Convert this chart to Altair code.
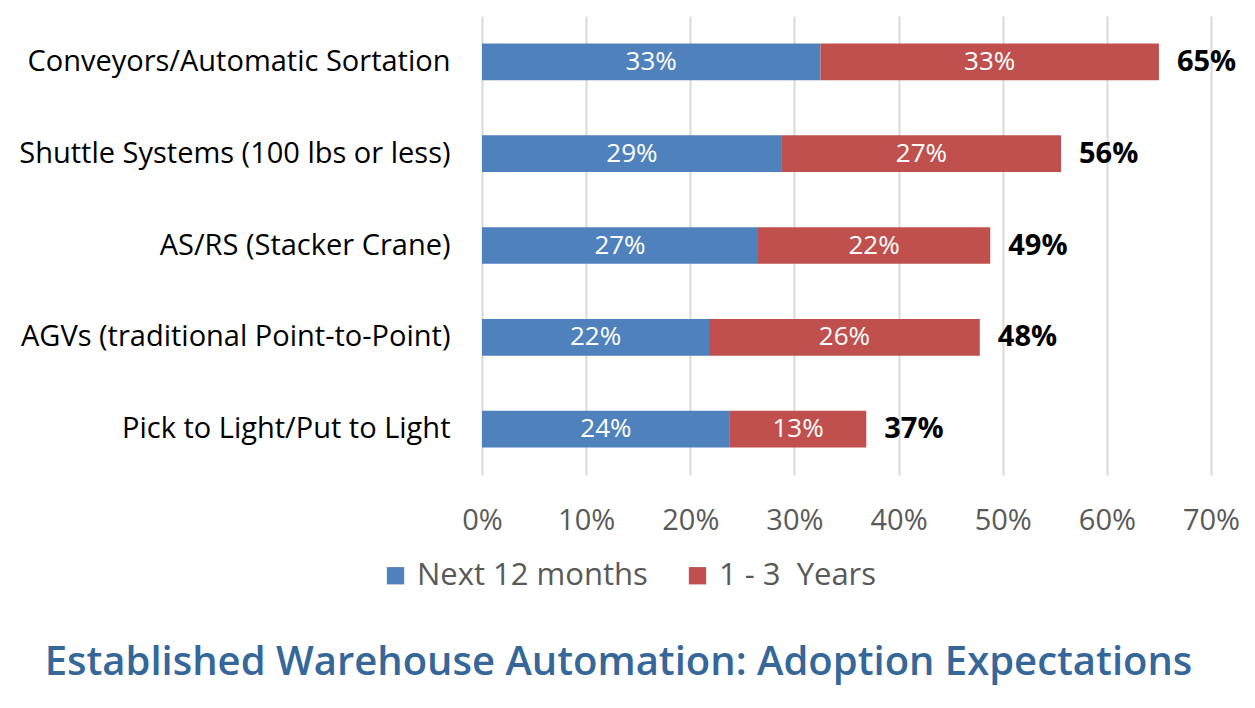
import altair as alt
import pandas as pd

categories = [
    "Conveyors/Automatic Sortation",
    "Shuttle Systems (100 lbs or less)",
    "AS/RS (Stacker Crane)",
    "AGVs (traditional Point-to-Point)",
    "Pick to Light/Put to Light",
]
next12 = [0.325, 0.288, 0.265, 0.218, 0.238]
years13 = [0.325, 0.268, 0.223, 0.260, 0.131]
next12_labels = ["33%", "29%", "27%", "22%", "24%"]
years13_labels = ["33%", "27%", "22%", "26%", "13%"]
total_labels = ["65%", "56%", "49%", "48%", "37%"]
series = ["Next 12 months", "1 - 3\u00a0 Years"]
colors = ["#4F81BD", "#C0504D"]

rows = []
for c, a, b, la, lb in zip(categories, next12, years13, next12_labels, years13_labels):
    rows.append({"cat": c, "series": series[0], "start": 0.0, "end": a, "mid": a / 2, "label": la})
    rows.append({"cat": c, "series": series[1], "start": a, "end": a + b, "mid": a + b / 2, "label": lb})
df = pd.DataFrame(rows)
tot = pd.DataFrame({"cat": categories,
                    "total": [a + b for a, b in zip(next12, years13)],
                    "label": total_labels})

FONT = "Open Sans"

y_enc = alt.Y("cat:N", sort=categories, title=None,
              scale=alt.Scale(paddingInner=0.6, paddingOuter=0.3),
              axis=alt.Axis(labelFont=FONT, labelFontSize=29, labelColor="#000000",
                            labelPadding=32, ticks=False, domain=False, labelLimit=600))

x_enc = alt.X("start:Q", title=None,
              scale=alt.Scale(domain=[0, 0.7], nice=False),
              axis=alt.Axis(format=".0%", values=[0, 0.1, 0.2, 0.3, 0.4, 0.5, 0.6, 0.7],
                            labelFont=FONT, labelFontSize=29, labelColor="#595959",
                            labelPadding=31, labelFlush=False, labelOverlap=False,
                            ticks=False, domain=False,
                            grid=True, gridColor="#D9D9D9", gridWidth=2))

bars = alt.Chart(df).mark_bar(stroke=None).encode(
    y=y_enc,
    x=x_enc,
    x2="end:Q",
    color=alt.Color("series:N", scale=alt.Scale(domain=series, range=colors),
                    legend=alt.Legend(title=None, orient="none", legendX=-102, legendY=544,
                                      direction="horizontal", symbolType="square",
                                      symbolSize=300, symbolStrokeWidth=0,
                                      labelFont=FONT, labelFontSize=31, labelColor="#595959",
                                      labelOffset=6, columnPadding=34, labelLimit=500)),
)

inner = alt.Chart(df).mark_text(font=FONT, fontSize=26, color="white").encode(
    y=alt.Y("cat:N", sort=categories),
    x=alt.X("mid:Q"),
    text="label:N",
)

totals = alt.Chart(tot).mark_text(font=FONT, fontSize=29, fontWeight="bold", color="#000000",
                                   align="left", dx=18).encode(
    y=alt.Y("cat:N", sort=categories),
    x=alt.X("total:Q"),
    text="label:N",
)

chart = alt.layer(bars, inner, totals).properties(
    width=729, height=459,
    padding={"left": 474, "top": 8, "right": 28, "bottom": 225},
    autosize=alt.AutoSizeParams(type="none"),
    title=alt.TitleParams("Established Warehouse Automation: Adoption Expectations",
                          orient="bottom", anchor="middle", dx=-228, offset=52,
                          font=FONT, fontSize=40, fontWeight=600, color="#35679A"),
).configure_view(stroke=None)

chart.save("out.html", embed_options={"renderer": "svg", "actions": False})
